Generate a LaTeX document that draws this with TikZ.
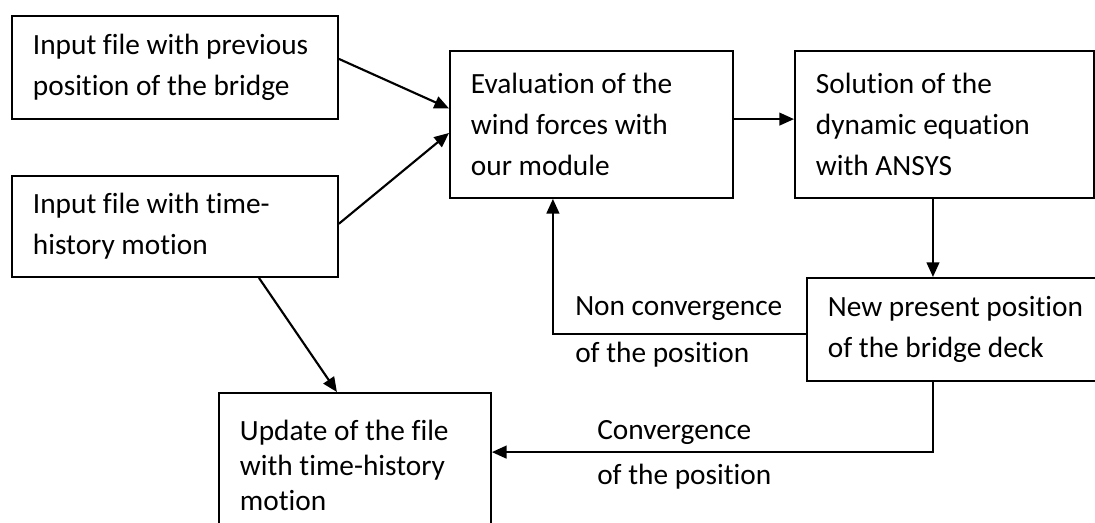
\documentclass[tikz,border=0pt]{standalone}
\usepackage{fontspec}
\setmainfont{Carlito}[Ligatures=NoCommon]
\usetikzlibrary{arrows.meta}

\begin{document}
\begin{tikzpicture}[
    x=0.75pt, y=-0.75pt,
    stage/.style={
      rectangle,
      anchor=north west,
      draw=black,
      line width=1.4pt,
      align=flush left,
      inner xsep=15.75pt,
      inner ysep=0pt,
      font=\fontsize{22}{31}\selectfont
    },
    arrow/.style={
      -{Triangle[length=11pt,width=9.5pt]},
      line width=1.6pt
    },
    note/.style={
      anchor=west,
      align=flush left,
      inner sep=0pt
    }
  ]

    \clip (0,0) rectangle (1095,523);

    % Left column: input files
    \node (prevpos) [stage, minimum width=244.5pt, minimum height=77.25pt, text width=213pt] at (11,15)
      {Input file with previous\\position of the bridge};
    \node (history) [stage, minimum width=244.5pt, minimum height=75.75pt, text width=213pt] at (11,175)
      {Input file with time-\\history motion};

    % Top row: wind forces and solver
    \node (wind) [stage, minimum width=212.25pt, minimum height=110.25pt, text width=180.75pt] at (449,50)
      {Evaluation of the\\wind forces with\\our module};
    \node (ansys) [stage, minimum width=224.25pt, minimum height=110.25pt, text width=192.75pt] at (794,50)
      {Solution of the\\dynamic equation\\with ANSYS};

    % Right side: new position
    \node (deck) [stage, minimum width=232.5pt, minimum height=77.25pt, text width=201pt] at (806,277)
      {New present position\\of the bridge deck};

    % Bottom: update of the file
    \node (update) [stage, minimum width=204pt, minimum height=108.75pt, text width=172.5pt,
      font=\fontsize{22}{26.25}\selectfont] at (218,392)
      {Update of the file\\with time-history\\motion};

    % Arrows
    \draw [arrow] ([yshift=6.4pt]prevpos.east) -- ([yshift=12pt]wind.west);
    \draw [arrow] ([yshift=2pt]history.east) -- ([yshift=-6.4pt]wind.west);
    \draw [arrow] ([yshift=4pt]wind.east) -- ([yshift=4pt]wind.east -| ansys.west);
    \draw [arrow] ([xshift=-8.6pt]ansys.south) -- ([xshift=-8.6pt]ansys.south |- deck.north);
    \draw [arrow] ([yshift=-3.4pt]deck.west) -| ([xshift=-28.9pt]wind.south);
    \draw [arrow] ([xshift=-21.75pt]deck.south) |- ([yshift=10pt]update.east);
    \draw [arrow] ([xshift=63pt]history.south) -- ([xshift=-13.5pt]update.north);

    % Labels on the feedback lines
    \node (nonconv) [note, font=\fontsize{22}{35.25}\selectfont] at (575,331.5)
      {Non convergence\\of the position};
    \node (conv) [note, font=\fontsize{22}{33.75}\selectfont] at (597,454.5)
      {Convergence\\of the position};

  \end{tikzpicture}
\end{document}
